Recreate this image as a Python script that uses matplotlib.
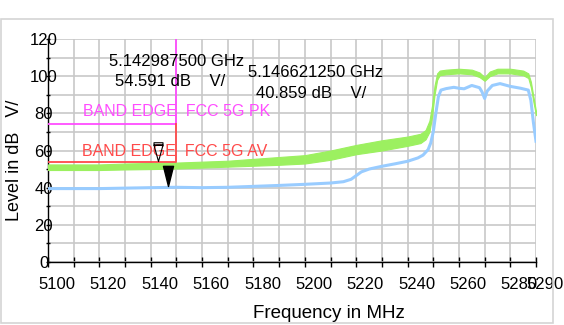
import matplotlib
matplotlib.use("Agg")
import matplotlib.pyplot as plt
import matplotlib.transforms as mtransforms
from matplotlib.path import Path
from matplotlib.patches import Rectangle

plt.rcParams['font.family'] = ['Liberation Sans', 'DejaVu Sans']

# Peak trace (green), drawn as the band
pk_freq = [5100, 5110, 5120, 5130, 5140, 5150, 5160, 5170, 5180, 5190, 5200,
           5210, 5220, 5230, 5240, 5245, 5247, 5248.5, 5249.5, 5250.5, 5251.5,
           5252.5, 5255, 5260, 5265, 5268, 5270, 5272, 5275, 5280, 5285, 5287,
           5288, 5289, 5290]
pk_lo = [49.5, 49.5, 49.5, 49.8, 50.0, 50.3, 50.8, 51.3, 51.8, 52.3, 53.0,
         55.0, 58.0, 60.0, 62.5, 64.0, 66.0, 70.0, 78.0, 90.0, 98.0,
         100.5, 101.0, 101.5, 101.0, 99.5, 97.5, 100.0, 101.5, 101.5, 100.5, 99.0,
         94.0, 86.0, 79.0]
pk_hi = [52.5, 52.5, 52.5, 53.0, 53.3, 53.5, 54.0, 54.5, 55.5, 56.5, 57.5,
         60.0, 63.0, 65.5, 67.5, 69.0, 71.0, 76.0, 84.0, 95.0, 101.5,
         103.0, 103.5, 104.0, 103.5, 102.0, 99.5, 102.5, 104.0, 104.0, 103.0, 101.5,
         97.0, 89.0, 81.0]

# Average trace (blue)
av_freq = [5100, 5120, 5140, 5150, 5160, 5170, 5180, 5190, 5200, 5210, 5215,
           5218, 5220, 5222, 5225, 5230, 5235, 5240, 5244, 5246, 5248, 5249,
           5250, 5251, 5252, 5253, 5255, 5258, 5260, 5262, 5265, 5268, 5269,
           5270, 5271, 5273, 5276, 5280, 5284, 5287, 5288, 5289, 5290]
av_level = [39.5, 39.5, 40.0, 40.2, 40.0, 40.2, 40.7, 41.2, 41.8, 42.5, 43.2,
            44.5, 46.5, 48.5, 50.0, 51.5, 52.8, 54.2, 56.0, 57.5, 60.5, 64.0,
            70.0, 80.0, 89.0, 92.5, 93.3, 94.0, 93.5, 93.2, 95.0, 93.8, 91.5,
            88.0, 92.0, 95.0, 96.0, 94.5, 93.5, 92.5, 87.0, 75.0, 65.0]

# Limit lines
pk_limit = 74
av_limit = 54
edge_freq = 5150

# Markers
m1_freq, m1_level = 5142.9875, 54.591
m2_freq, m2_level = 5146.62125, 40.859

x_ticks = [5100, 5120, 5140, 5160, 5180, 5200, 5220, 5240, 5260, 5280, 5290]
y_ticks = [0, 20, 40, 60, 80, 100, 120]

GREEN = '#9cf060'
BLUE = '#99ccff'
MAGENTA = '#ff4dff'
RED = '#ff4a4a'

fig = plt.figure(figsize=(5.64, 3.25), dpi=100)
# light frame around the chart
fig.patches.append(Rectangle((1 / 564, 2 / 325), 552 / 564, 304 / 325,
                             transform=fig.transFigure, fill=False,
                             edgecolor='#d4d4d4', lw=1.2))
ax = fig.add_axes([48 / 564, 63 / 325, 488 / 564, 223 / 325])

ax.set_xlim(5100, 5290)
ax.set_ylim(0, 120)

# grid every 10 units
ax.set_xticks(range(5100, 5291, 10), minor=True)
ax.set_yticks(range(0, 121, 10), minor=True)
ax.grid(True, which='both', color='#c8c8c8', lw=1.2)
ax.set_axisbelow(True)
for s in ['top', 'right']:
    ax.spines[s].set_visible(False)
for s in ['left', 'bottom']:
    ax.spines[s].set_linewidth(1.0)

ax.set_xticks(x_ticks)
ax.set_xticklabels([str(t) for t in x_ticks])
ax.set_yticks(y_ticks)
ax.set_yticklabels([str(t) for t in y_ticks])
ax.tick_params(axis='x', which='both', direction='inout', length=7, width=1,
               labelsize=12, pad=7)
ax.tick_params(axis='y', which='both', direction='inout', length=3, width=1,
               labelsize=12, pad=1)
xoff = mtransforms.ScaledTranslation(9 / 100, 0, fig.dpi_scale_trans)
for lab in ax.get_xticklabels():
    lab.set_transform(lab.get_transform() + xoff)
for lab in ax.get_yticklabels():
    lab.set_ha('center')
    lab.set_transform(lab.get_transform() + mtransforms.ScaledTranslation(-1 / 100, 0, fig.dpi_scale_trans))

# traces
ax.fill_between(pk_freq, pk_lo, pk_hi, color=GREEN, lw=0.8, zorder=3)
ax.plot(av_freq, av_level, color=BLUE, lw=2.2, zorder=4)

# limit lines
ax.plot([5100, edge_freq, edge_freq], [pk_limit, pk_limit, 120], color=MAGENTA, lw=1.3, zorder=5)
ax.plot([5100, edge_freq, edge_freq], [av_limit, av_limit, pk_limit], color=RED, lw=1.3, zorder=5)
ax.text(5113.5, 81.2, 'BAND EDGE  FCC 5G PK', color=MAGENTA, fontsize=11.5, va='center', zorder=6)
ax.text(5113.3, 59.4, 'BAND EDGE  FCC 5G AV', color=RED, fontsize=11.5, va='center', zorder=6)

# marker shapes: tall triangles pointing down, tip on the trace
tri = Path([(-1, 4), (1, 4), (0, 0), (-1, 4)],
           [Path.MOVETO, Path.LINETO, Path.LINETO, Path.CLOSEPOLY])
tri_box = Path([(-1.1, 4), (1.1, 4), (0, 0), (-1.1, 4),
                (-1.1, 4), (1.1, 4), (1.1, 4.6), (-1.1, 4.6), (-1.1, 4)],
               [Path.MOVETO, Path.LINETO, Path.LINETO, Path.CLOSEPOLY,
                Path.MOVETO, Path.LINETO, Path.LINETO, Path.LINETO, Path.CLOSEPOLY])
ax.plot([m2_freq], [m2_level], marker=tri, markersize=29, color='black',
        mec='black', lw=0, zorder=7)
ax.plot([m1_freq], [m1_level], marker=tri_box, markersize=27, mfc='none',
        mec='black', mew=0.8, lw=0, zorder=7)

# marker readouts
ax.text(5123.6, 107.8, '5.142987500 GHz', fontsize=12, va='center', zorder=6)
ax.text(5126.0, 97.2, '54.591 dB    V/', fontsize=12, va='center', zorder=6)
ax.text(5178.0, 102.1, '5.146621250 GHz', fontsize=12, va='center', zorder=6)
ax.text(5181.0, 90.9, '40.859 dB    V/', fontsize=12, va='center', zorder=6)

fig.text(329 / 564, 1 - 314 / 325, 'Frequency in MHz', fontsize=13.5,
         ha='center', va='center')
fig.text(15 / 564, 1 - 160 / 325, 'Level in dB   V/', fontsize=13, rotation=90,
         ha='center', va='center')

fig.savefig('out.png', dpi=100)
